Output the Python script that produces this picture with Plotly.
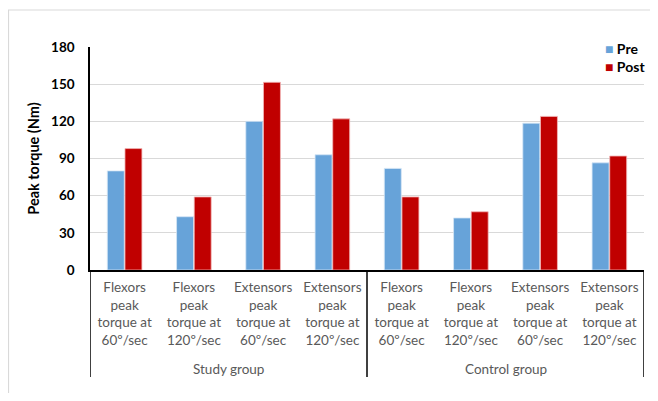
import plotly.graph_objects as go

categories = [
    "Flexors<br>peak<br>torque at<br>60º/sec",
    "Flexors<br>peak<br>torque at<br>120º/sec",
    "Extensors<br>peak<br>torque at<br>60º/sec",
    "Extensors<br>peak<br>torque at<br>120º/sec",
    "Flexors<br>peak<br>torque at<br>60º/sec",
    "Flexors<br>peak<br>torque at<br>120º/sec",
    "Extensors<br>peak<br>torque at<br>60º/sec",
    "Extensors<br>peak<br>torque at<br>120º/sec",
]
groups = ["Study group", "Control group"]
series_names = ["Pre", "Post"]
series_colors = ["#67A3D9", "#C00000"]
pre = [80, 43, 120, 93, 82, 42, 118.5, 86.5]
post = [98, 59, 151.5, 122, 59, 47, 124, 92]
y_ticks = [0, 30, 60, 90, 120, 150, 180]

x_idx = list(range(len(categories)))
FONT = "Lato"

# page body has an 8px margin: figure is placed at (8, 8)
W, H = 650, 385
L, T, R, B = 82, 39, 14, 123
PW, PH = W - L - R, H - T - B

def px_x(page_x):
    return (page_x - 8 - L) / PW

def px_y(page_y):
    return (H - B + 8 - page_y) / PH

fig = go.Figure()
fig.add_trace(go.Bar(x=x_idx, y=pre, name=series_names[0],
                     marker=dict(color=series_colors[0], line=dict(color="#D6E6F5", width=0.8))))
fig.add_trace(go.Bar(x=x_idx, y=post, name=series_names[1],
                     marker=dict(color=series_colors[1], line=dict(color="#F2B8B8", width=0.8))))

n_per_group = len(categories) // len(groups)
shapes = []
# outer chart border (light gray frame)
shapes.append(dict(type="rect", xref="paper", yref="paper",
                   x0=px_x(8.5), x1=px_x(700), y0=px_y(460), y1=px_y(10),
                   line=dict(color="#D9D9D9", width=1.2), fillcolor="rgba(0,0,0,0)", layer="below"))
for k in range(len(groups) + 1):
    xv = k * n_per_group - 0.5
    shapes.append(dict(type="line", xref="x", yref="paper", x0=xv, x1=xv,
                       y0=0, y1=px_y(377), line=dict(color="black", width=1.5)))

annotations = []
for g, name in enumerate(groups):
    annotations.append(dict(x=g * n_per_group + (n_per_group - 1) / 2, y=px_y(369),
                            xref="x", yref="paper", text=name, showarrow=False,
                            font=dict(family=FONT, size=13.5, color="#595959"),
                            xanchor="center", yanchor="middle"))
# legend entries
for i, (nm, col) in enumerate(zip(series_names, series_colors)):
    annotations.append(dict(x=px_x(603), y=px_y(48 + 18 * i), xref="paper", yref="paper",
                            text=f'<span style="color:{col}">■</span> {nm}', showarrow=False,
                            font=dict(family=FONT, size=14, color="black", weight="bold"),
                            xanchor="left", yanchor="middle"))

fig.update_layout(
    width=W, height=H,
    margin=dict(l=L, r=R, t=T, b=B, autoexpand=False),
    paper_bgcolor="white", plot_bgcolor="white",
    barmode="group", bargap=0.49, bargroupgap=0.04,
    font=dict(family=FONT),
    showlegend=False,
    xaxis=dict(tickmode="array", tickvals=x_idx, ticktext=categories,
               range=[-0.5, len(categories) - 0.5], automargin=False,
               showline=True, linecolor="black", linewidth=1.5,
               ticks="", showgrid=False, zeroline=False, ticklabelstandoff=4,
               tickfont=dict(family=FONT, size=13.5, color="#595959")),
    yaxis=dict(range=[0, 180], tickvals=y_ticks, automargin=False,
               showline=True, linecolor="black", linewidth=1.5,
               showgrid=True, gridcolor="#D9D9D9", gridwidth=1.2,
               zeroline=False, ticks="", ticklabelstandoff=11,
               tickfont=dict(family=FONT, size=13.5, color="black", weight="bold"),
               title=dict(text="Peak torque (Nm)", standoff=8,
                          font=dict(family=FONT, size=14.5, color="black", weight="bold"))),
    shapes=shapes, annotations=annotations,
)

fig.write_html("out.html")
